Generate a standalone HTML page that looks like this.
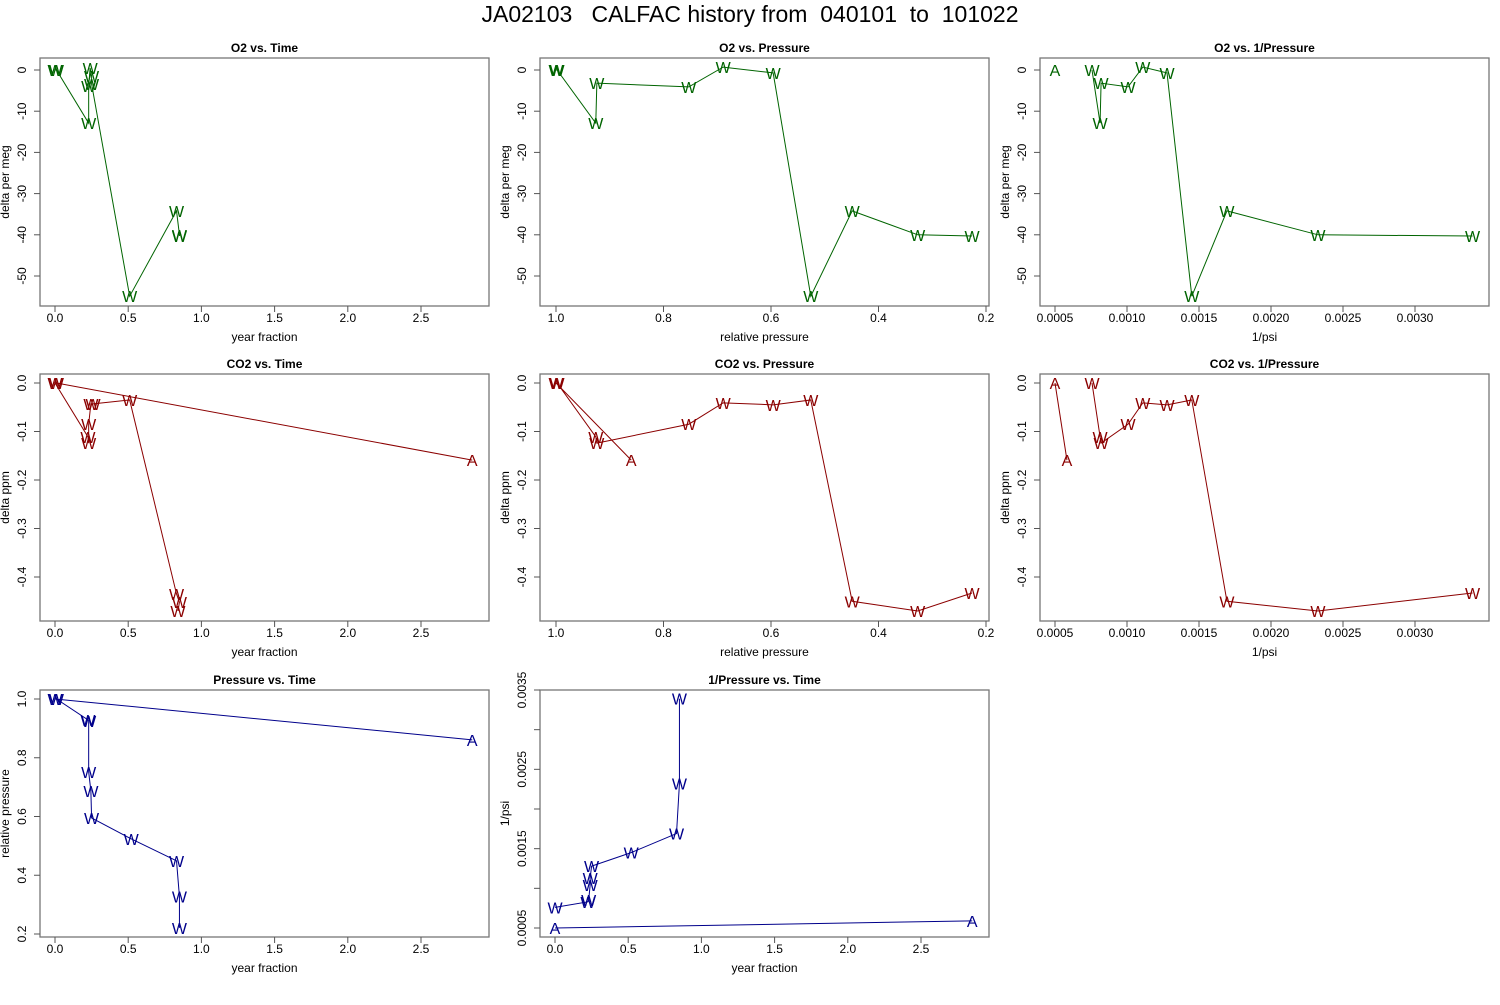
<!DOCTYPE html>
<html><head><meta charset="utf-8"><style>
body{margin:0;background:#fff;}
svg text{font-family:"Liberation Sans",sans-serif;}
</style></head><body>
<svg id="chart" width="1500" height="1000" xmlns="http://www.w3.org/2000/svg">
<rect width="1500" height="1000" fill="#fff"/>
<text x="750" y="22" font-size="23" text-anchor="middle" style="white-space:pre" xml:space="preserve">JA02103   CALFAC history from  040101  to  101022</text>
</svg>
<script>
// Panel 1: O2 vs Time
const p1X=[0,0.01,0.23,0.23,0.24,0.25,0.25,0.51,0.83,0.85,0.85];
const p1Y=[0,0,-12.9,-3.9,0.5,-1.5,-3.4,-54.9,-34.2,-40,-40.3];
const p1L=["W","W","W","W","W","W","W","W","W","W","W"];
// Panel 2: O2 vs Pressure
const p2X=[1.0,0.998,0.926,0.924,0.753,0.689,0.596,0.526,0.449,0.327,0.226];
const p2Y=[0,0,-12.9,-3.2,-4.1,0.7,-0.7,-54.9,-34.2,-40,-40.3];
const p2L=["W","W","W","W","W","W","W","W","W","W","W"];
// Panel 3: O2 vs 1/Pressure
const p3AX=[0.0005];
const p3AY=[0];
const p3X=[0.000757,0.000813,0.00082,0.001007,0.00111,0.001278,0.00145,0.001694,0.002326,0.0034];
const p3Y=[0,-12.9,-3.2,-4.1,0.7,-0.7,-54.9,-34.2,-40,-40.3];
// Panel 4: CO2 vs Time
const p4X=[2.85,0.01,0,0.225,0.23,0.23,0.245,0.26,0.51,0.83,0.85,0.84];
const p4Y=[-0.159,0,0,-0.111,-0.124,-0.085,-0.043,-0.043,-0.035,-0.435,-0.452,-0.47];
const p4L=["A","W","W","W","W","W","W","W","W","W","W","W"];
// Panel 5: CO2 vs Pressure
const p5X=[0.86,1.0,0.998,0.926,0.924,0.753,0.689,0.596,0.526,0.449,0.327,0.226];
const p5Y=[-0.159,0,0,-0.111,-0.124,-0.085,-0.041,-0.045,-0.035,-0.450,-0.470,-0.433];
const p5L=["A","W","W","W","W","W","W","W","W","W","W","W"];
// Panel 6: CO2 vs 1/Pressure
const p6AX=[0.0005,0.000583];
const p6AY=[0,-0.159];
const p6X=[0.000757,0.000813,0.00082,0.001007,0.00111,0.001278,0.00145,0.001694,0.002326,0.0034];
const p6Y=[0,-0.111,-0.124,-0.085,-0.041,-0.045,-0.035,-0.450,-0.470,-0.433];
// Panel 7: Pressure vs Time
const p7X=[2.85,0,0.01,0.225,0.23,0.23,0.245,0.25,0.52,0.83,0.85,0.85];
const p7Y=[0.861,1.0,1.0,0.929,0.925,0.752,0.687,0.595,0.524,0.449,0.327,0.221];
const p7L=["A","W","W","W","W","W","W","W","W","W","W","W"];
// Panel 8: 1/Pressure vs Time
const p8AX=[0,2.85];
const p8AY=[0.0005,0.00059];
const p8X=[0,0.225,0.23,0.24,0.24,0.25,0.52,0.83,0.85,0.85];
const p8Y=[0.00076,0.00083,0.00085,0.00104,0.00113,0.00128,0.00145,0.00169,0.00232,0.00339];
// tick labels
const timeTicks=[0,0.5,1,1.5,2,2.5];
const timeTickLabels=["0.0","0.5","1.0","1.5","2.0","2.5"];
const presTicks=[1,0.8,0.6,0.4,0.2];
const presTickLabels=["1.0","0.8","0.6","0.4","0.2"];
const invTicks=[0.0005,0.001,0.0015,0.002,0.0025,0.003];
const invTickLabels=["0.0005","0.0010","0.0015","0.0020","0.0025","0.0030"];
const o2Ticks=[0,-10,-20,-30,-40,-50];
const o2TickLabels=["0","-10","-20","-30","-40","-50"];
const co2Ticks=[0,-0.1,-0.2,-0.3,-0.4];
const co2TickLabels=["0.0","-0.1","-0.2","-0.3","-0.4"];
const relpTicks=[1,0.8,0.6,0.4,0.2];
const relpTickLabels=["1.0","0.8","0.6","0.4","0.2"];
const invYTicks=[0.0005,0.001,0.0015,0.002,0.0025,0.003,0.0035];
const invYTickLabels=["0.0005","","0.0015","","0.0025","","0.0035"];

const NS="http://www.w3.org/2000/svg";
const svg=document.getElementById('chart');
function mk(tag,attrs,parent){const e=document.createElementNS(NS,tag);for(const k in attrs)e.setAttribute(k,attrs[k]);(parent||svg).appendChild(e);return e;}
function lin(d0,p0,d1,p1){return v=>p0+(v-d0)*(p1-p0)/(d1-d0);}
const cols=[[40,489],[540,989],[1040,1489]];
const rows=[[58,306],[374,621],[690,937]];
const xT=lin(0,55,2.5,421), xT2=lin(0,555,2.5,921);
const xP=lin(1,556,0.2,986);
const xI=lin(0.0005,1055,0.003,1415);
const yO=lin(0,70,-50,276), yC=lin(0,383,-0.4,577);
const yP=lin(1,699,0.2,934), yI=lin(0.0005,928,0.0035,690);

function panel(name,ci,ri,title,xl,yl,xs,ys,xt,xtl,yt,ytl,color,series){
  const [x0,x1]=cols[ci],[y0,y1]=rows[ri];
  const g=mk('g',{});
  
  
  const box=mk('rect',{x:x0,y:y0,width:x1-x0,height:y1-y0,fill:'none',stroke:'#777','stroke-width':1.3},g);
  
  
  const t=mk('text',{x:(x0+x1)/2,y:y0-6,'font-size':12,'font-weight':'bold','text-anchor':'middle'},g);
  
  
  t.textContent=title;
  const xa=mk('g',{},g);
  
  
  mk('line',{x1:xs(xt[0]),x2:xs(xt[xt.length-1]),y1:y1,y2:y1,stroke:'#777'},xa);
  xt.forEach((v,i)=>{const px=xs(v);
    mk('line',{x1:px,x2:px,y1:y1,y2:y1+6,stroke:'#555'},xa);
    const l=mk('text',{x:px,y:y1+16,'font-size':12,'text-anchor':'middle'},xa);
    
    
    l.textContent=xtl[i];});
  const xtt=mk('text',{x:(x0+x1)/2,y:y1+35,'font-size':12,'text-anchor':'middle'},g);
  
  
  xtt.textContent=xl;
  const ya=mk('g',{},g);
  
  
  mk('line',{x1:x0,x2:x0,y1:ys(yt[0]),y2:ys(yt[yt.length-1]),stroke:'#777'},ya);
  yt.forEach((v,i)=>{const py=ys(v);
    mk('line',{x1:x0-6,x2:x0,y1:py,y2:py,stroke:'#555'},ya);
    if(ytl[i]!==""){const l=mk('text',{x:0,y:0,'font-size':12,'text-anchor':'middle',transform:`translate(${x0-14},${py}) rotate(-90)`},ya);
    
    
    l.textContent=ytl[i];}});
  const ytt=mk('text',{x:0,y:0,'font-size':12,'text-anchor':'middle',transform:`translate(${x0-31},${(y0+y1)/2}) rotate(-90)`},g);
  
  
  ytt.textContent=yl;
  series.forEach(s=>{
    if(s.line){const pts=s.x.map((v,i)=>xs(v)+','+ys(s.y[i])).join(' ');
      const pl=mk('polyline',{points:pts,fill:'none',stroke:color,'stroke-width':1},g);
      
      }
    s.x.forEach((v,i)=>{const tx=mk('text',{x:xs(v),y:ys(s.y[i])+6,'font-size':16,fill:color,'text-anchor':'middle'},g);
      
      
      tx.textContent=s.l?s.l[i]:s.c;});
  });
}
const G='#006400',R='#8b0000',B='#00008b';
panel('panel-o2-vs-time',0,0,'O2 vs. Time','year fraction','delta per meg',xT,yO,timeTicks,timeTickLabels,o2Ticks,o2TickLabels,G,[{x:p1X,y:p1Y,l:p1L,line:true}]);
panel('panel-o2-vs-pressure',1,0,'O2 vs. Pressure','relative pressure','delta per meg',xP,yO,presTicks,presTickLabels,o2Ticks,o2TickLabels,G,[{x:p2X,y:p2Y,l:p2L,line:true}]);
panel('panel-o2-vs-invpressure',2,0,'O2 vs. 1/Pressure','1/psi','delta per meg',xI,yO,invTicks,invTickLabels,o2Ticks,o2TickLabels,G,[{x:p3AX,y:p3AY,c:'A',line:false},{x:p3X,y:p3Y,c:'W',line:true}]);
panel('panel-co2-vs-time',0,1,'CO2 vs. Time','year fraction','delta ppm',xT,yC,timeTicks,timeTickLabels,co2Ticks,co2TickLabels,R,[{x:p4X,y:p4Y,l:p4L,line:true}]);
panel('panel-co2-vs-pressure',1,1,'CO2 vs. Pressure','relative pressure','delta ppm',xP,yC,presTicks,presTickLabels,co2Ticks,co2TickLabels,R,[{x:p5X,y:p5Y,l:p5L,line:true}]);
panel('panel-co2-vs-invpressure',2,1,'CO2 vs. 1/Pressure','1/psi','delta ppm',xI,yC,invTicks,invTickLabels,co2Ticks,co2TickLabels,R,[{x:p6AX,y:p6AY,c:'A',line:true},{x:p6X,y:p6Y,c:'W',line:true}]);
panel('panel-pressure-vs-time',0,2,'Pressure vs. Time','year fraction','relative pressure',xT,yP,timeTicks,timeTickLabels,relpTicks,relpTickLabels,B,[{x:p7X,y:p7Y,l:p7L,line:true}]);
panel('panel-invpressure-vs-time',1,2,'1/Pressure vs. Time','year fraction','1/psi',xT2,yI,timeTicks,timeTickLabels,invYTicks,invYTickLabels,B,[{x:p8AX,y:p8AY,c:'A',line:true},{x:p8X,y:p8Y,c:'W',line:true}]);
</script>
</body></html>
